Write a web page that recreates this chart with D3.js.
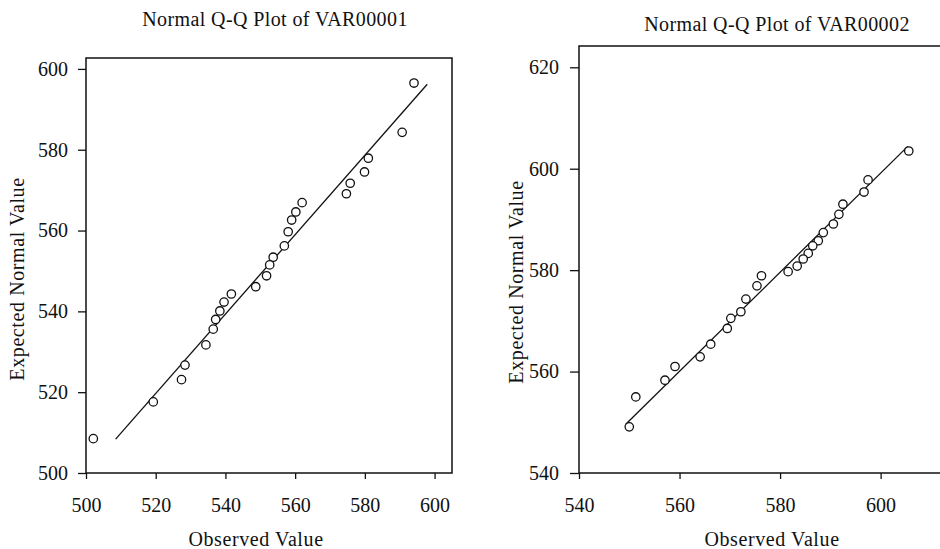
<!DOCTYPE html>
<html>
<head>
<meta charset="utf-8">
<script src="https://d3js.org/d3.v7.min.js"></script>
<style>
  body { margin: 0; background: #fff; }
  svg { display: block; font-family: "Liberation Serif", "Times New Roman", serif; }
  .tick text { font-family: "Liberation Serif", "Times New Roman", serif; font-size: 20px; fill: #111; }
  .tick line { stroke: #111; stroke-width: 1.3; }
</style>
</head>
<body>
<svg id="chart" width="940" height="549"></svg>
<script>
// VAR00001: observed vs expected normal value
const observed1 = [594.1, 590.7, 581.0, 579.9, 575.8, 574.7, 562.0, 560.2, 559.0, 558.0,
                   556.9, 553.7, 552.7, 551.8, 548.7, 541.7, 539.6, 538.4, 537.2, 536.5,
                   534.4, 528.4, 527.4, 519.3, 502.1];
const expected1 = [596.5, 584.3, 577.9, 574.5, 571.7, 569.1, 566.9, 564.6, 562.6, 559.7,
                   556.2, 553.4, 551.5, 548.8, 546.1, 544.3, 542.3, 540.1, 538.0, 535.6,
                   531.7, 526.7, 523.1, 517.6, 508.5];
const refLine1 = [[508.5, 508.4], [597.9, 596.2]];

// VAR00002
const observed2 = [605.6, 597.5, 596.7, 592.5, 591.7, 590.6, 588.6, 587.6, 586.5, 585.6,
                   584.6, 583.4, 581.6, 576.3, 575.4, 573.2, 572.2, 570.2, 569.5, 566.2,
                   564.1, 559.1, 557.1, 551.3, 550.0];
const expected2 = [603.5, 597.8, 595.4, 593.0, 591.0, 589.1, 587.4, 585.8, 584.8, 583.3,
                   582.2, 580.8, 579.7, 578.9, 576.9, 574.3, 571.8, 570.5, 568.5, 565.4,
                   562.9, 561.0, 558.3, 555.0, 549.1];
const refLine2 = [[549.3, 549.6], [605.4, 604.4]];

const xTicks1 = [500, 520, 540, 560, 580, 600];
const yTicks1 = [500, 520, 540, 560, 580, 600];
const xTicks2 = [540, 560, 580, 600];
const yTicks2 = [540, 560, 580, 600, 620];

const svg = d3.select("#chart");
const serif = "'Liberation Serif', 'Times New Roman', serif";

const panels = [
  {
    title: "Normal Q-Q Plot of VAR00001",
    obs: observed1, exp: expected1, line: refLine1,
    xTicks: xTicks1, yTicks: yTicks1,
    xDomain: [500, 605], yDomain: [500, 602.7],
    left: 86, right: 452, top: 58, bottom: 473,
    yPad: 10, yTickSize: 8,
    titleX: 275, titleY: 26, xTitleX: 256, xTitleY: 546,
    yTitleX: 24, yTitleY: 279
  },
  {
    title: "Normal Q-Q Plot of VAR00002",
    obs: observed2, exp: expected2, line: refLine2,
    xTicks: xTicks2, yTicks: yTicks2,
    xDomain: [540, 614], yDomain: [540, 624.2],
    left: 579, right: 951, top: 46, bottom: 473,
    yPad: 11, yTickSize: 9,
    titleX: 777, titleY: 31, xTitleX: 772, xTitleY: 546,
    yTitleX: 523, yTitleY: 282
  }
];

panels.forEach(p => {
  const x = d3.scaleLinear().domain(p.xDomain).range([p.left, p.right]);
  const y = d3.scaleLinear().domain(p.yDomain).range([p.bottom, p.top]);

  const g = svg.append("g");

  // frame
  g.append("rect")
    .attr("x", p.left)
    .attr("y", p.top)
    .attr("width", p.right - p.left)
    .attr("height", p.bottom - p.top)
    .attr("fill", "none")
    .attr("stroke", "#111")
    .attr("stroke-width", 1.5);

  // axes
  const xAxis = g.append("g")
    .attr("transform", `translate(0,${p.bottom})`)
    .call(d3.axisBottom(x).tickValues(p.xTicks).tickSize(6).tickSizeOuter(0).tickFormat(d3.format("d")))
    .attr("font-family", serif)
    .attr("font-size", 20);
  xAxis.select(".domain").remove();
  xAxis.selectAll(".tick text")
    .attr("dy", null)
    .attr("y", 39);

  const yAxis = g.append("g")
    .attr("transform", `translate(${p.left},0)`)
    .call(d3.axisLeft(y).tickValues(p.yTicks).tickSize(p.yTickSize).tickPadding(p.yPad)
      .tickSizeOuter(0).tickFormat(d3.format("d")))
    .attr("font-family", serif)
    .attr("font-size", 20);
  yAxis.select(".domain").remove();

  // reference line
  g.append("line")
    .attr("x1", x(p.line[0][0]))
    .attr("y1", y(p.line[0][1]))
    .attr("x2", x(p.line[1][0]))
    .attr("y2", y(p.line[1][1]))
    .attr("stroke", "#111")
    .attr("stroke-width", 1.3);

  // points
  g.selectAll("circle")
    .data(p.obs.map((o, i) => ({ o: o, e: p.exp[i] })))
    .enter().append("circle")
    .attr("cx", d => x(d.o))
    .attr("cy", d => y(d.e))
    .attr("r", 4.2)
    .attr("fill", "#fff")
    .attr("stroke", "#111")
    .attr("stroke-width", 1.3);

  // titles
  svg.append("text")
    .attr("x", p.titleX)
    .attr("y", p.titleY)
    .attr("text-anchor", "middle")
    .attr("font-size", "20px")
    .attr("letter-spacing", "0.4px")
    .attr("fill", "#111")
    .text(p.title);

  svg.append("text")
    .attr("x", p.xTitleX)
    .attr("y", p.xTitleY)
    .attr("text-anchor", "middle")
    .attr("font-size", "20px")
    .attr("letter-spacing", "0.6px")
    .attr("fill", "#111")
    .text("Observed Value");

  svg.append("text")
    .attr("transform", `translate(${p.yTitleX},${p.yTitleY}) rotate(-90)`)
    .attr("text-anchor", "middle")
    .attr("font-size", "20px")
    .attr("letter-spacing", "0.6px")
    .attr("fill", "#111")
    .text("Expected Normal Value");
});
</script>
</body>
</html>
